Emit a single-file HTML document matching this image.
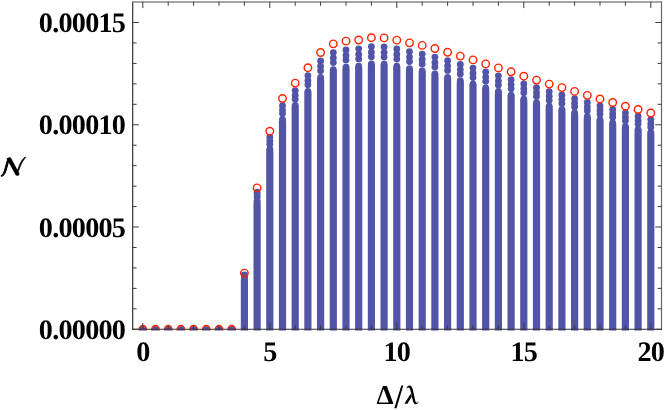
<!DOCTYPE html>
<html><head><meta charset="utf-8"><title>chart</title>
<style>
html,body{margin:0;padding:0;background:#fff;}
body{width:664px;height:410px;overflow:hidden;}
svg{display:block;will-change:transform;}
text{font-family:"Liberation Serif",serif;fill:#000;text-rendering:geometricPrecision;}
</style></head><body>
<svg width="664" height="410" viewBox="0 0 664 410">
<rect width="664" height="410" fill="#fff"/>
<defs><clipPath id="c"><rect x="132.7" y="1.9" width="528.8" height="328.6"/></clipPath></defs>
<g clip-path="url(#c)">
<g fill="#5254a8" stroke="none">
<circle cx="142.80" cy="329.30" r="3.40"/>
<circle cx="155.50" cy="329.30" r="3.40"/>
<circle cx="168.20" cy="329.30" r="3.40"/>
<circle cx="180.90" cy="329.30" r="3.40"/>
<circle cx="193.60" cy="329.30" r="3.40"/>
<circle cx="206.30" cy="329.30" r="3.40"/>
<circle cx="219.00" cy="329.30" r="3.40"/>
<circle cx="231.70" cy="329.30" r="3.40"/>
<circle cx="244.40" cy="274.81" r="3.40"/>
<circle cx="244.40" cy="275.88" r="3.40"/>
<circle cx="244.40" cy="276.78" r="3.40"/>
<circle cx="244.40" cy="278.17" r="3.40"/><path d="M241.00 278.17 L240.80 281.17 L240.80 332.30 L248.00 332.30 L248.00 281.17 L247.80 278.17 Z"/>
<circle cx="257.10" cy="192.21" r="3.40"/>
<circle cx="257.10" cy="194.90" r="3.40"/>
<circle cx="257.10" cy="197.16" r="3.40"/>
<circle cx="257.10" cy="200.65" r="3.40"/><path d="M253.70 200.65 L253.50 203.65 L253.50 332.30 L260.70 332.30 L260.70 203.65 L260.50 200.65 Z"/>
<circle cx="269.80" cy="137.24" r="3.40"/>
<circle cx="269.80" cy="141.01" r="3.40"/>
<circle cx="269.80" cy="144.18" r="3.40"/>
<circle cx="269.80" cy="149.07" r="3.40"/><path d="M266.40 149.07 L266.20 152.07 L266.20 332.30 L273.40 332.30 L273.40 152.07 L273.20 149.07 Z"/>
<circle cx="282.50" cy="105.54" r="3.40"/>
<circle cx="282.50" cy="109.92" r="3.40"/>
<circle cx="282.50" cy="113.62" r="3.40"/>
<circle cx="282.50" cy="119.32" r="3.40"/><path d="M279.10 119.32 L278.90 122.32 L278.90 332.30 L286.10 332.30 L286.10 122.32 L285.90 119.32 Z"/>
<circle cx="295.20" cy="90.61" r="3.40"/>
<circle cx="295.20" cy="95.29" r="3.40"/>
<circle cx="295.20" cy="99.23" r="3.40"/>
<circle cx="295.20" cy="105.31" r="3.40"/><path d="M291.80 105.31 L291.60 108.31 L291.60 332.30 L298.80 332.30 L298.80 108.31 L298.60 105.31 Z"/>
<circle cx="307.90" cy="75.68" r="3.40"/>
<circle cx="307.90" cy="80.65" r="3.40"/>
<circle cx="307.90" cy="84.83" r="3.40"/>
<circle cx="307.90" cy="91.30" r="3.40"/><path d="M304.50 91.30 L304.30 94.30 L304.30 332.30 L311.50 332.30 L311.50 94.30 L311.30 91.30 Z"/>
<circle cx="320.60" cy="60.94" r="3.40"/>
<circle cx="320.60" cy="66.20" r="3.40"/>
<circle cx="320.60" cy="70.63" r="3.40"/>
<circle cx="320.60" cy="77.47" r="3.40"/><path d="M317.20 77.47 L317.00 80.47 L317.00 332.30 L324.20 332.30 L324.20 80.47 L324.00 77.47 Z"/>
<circle cx="333.30" cy="52.56" r="3.40"/>
<circle cx="333.30" cy="57.98" r="3.40"/>
<circle cx="333.30" cy="62.55" r="3.40"/>
<circle cx="333.30" cy="69.60" r="3.40"/><path d="M329.90 69.60 L329.70 72.60 L329.70 332.30 L336.90 332.30 L336.90 72.60 L336.70 69.60 Z"/>
<circle cx="346.00" cy="49.94" r="3.40"/>
<circle cx="346.00" cy="55.41" r="3.40"/>
<circle cx="346.00" cy="60.02" r="3.40"/>
<circle cx="346.00" cy="67.14" r="3.40"/><path d="M342.60 67.14 L342.40 70.14 L342.40 332.30 L349.60 332.30 L349.60 70.14 L349.40 67.14 Z"/>
<circle cx="358.70" cy="48.82" r="3.40"/>
<circle cx="358.70" cy="54.32" r="3.40"/>
<circle cx="358.70" cy="58.95" r="3.40"/>
<circle cx="358.70" cy="66.09" r="3.40"/><path d="M355.30 66.09 L355.10 69.09 L355.10 332.30 L362.30 332.30 L362.30 69.09 L362.10 66.09 Z"/>
<circle cx="371.40" cy="46.59" r="3.40"/>
<circle cx="371.40" cy="52.13" r="3.40"/>
<circle cx="371.40" cy="56.80" r="3.40"/>
<circle cx="371.40" cy="64.00" r="3.40"/><path d="M368.00 64.00 L367.80 67.00 L367.80 332.30 L375.00 332.30 L375.00 67.00 L374.80 64.00 Z"/>
<circle cx="384.10" cy="46.79" r="3.40"/>
<circle cx="384.10" cy="52.32" r="3.40"/>
<circle cx="384.10" cy="56.99" r="3.40"/>
<circle cx="384.10" cy="64.18" r="3.40"/><path d="M380.70 64.18 L380.50 67.18 L380.50 332.30 L387.70 332.30 L387.70 67.18 L387.50 64.18 Z"/>
<circle cx="396.80" cy="48.97" r="3.40"/>
<circle cx="396.80" cy="54.46" r="3.40"/>
<circle cx="396.80" cy="59.09" r="3.40"/>
<circle cx="396.80" cy="66.23" r="3.40"/><path d="M393.40 66.23 L393.20 69.23 L393.20 332.30 L400.40 332.30 L400.40 69.23 L400.20 66.23 Z"/>
<circle cx="409.50" cy="51.59" r="3.40"/>
<circle cx="409.50" cy="57.03" r="3.40"/>
<circle cx="409.50" cy="61.61" r="3.40"/>
<circle cx="409.50" cy="68.69" r="3.40"/><path d="M406.10 68.69 L405.90 71.69 L405.90 332.30 L413.10 332.30 L413.10 71.69 L412.90 68.69 Z"/>
<circle cx="422.20" cy="54.06" r="3.40"/>
<circle cx="422.20" cy="59.45" r="3.40"/>
<circle cx="422.20" cy="64.00" r="3.40"/>
<circle cx="422.20" cy="71.01" r="3.40"/><path d="M418.80 71.01 L418.60 74.01 L418.60 332.30 L425.80 332.30 L425.80 74.01 L425.60 71.01 Z"/>
<circle cx="434.90" cy="57.06" r="3.40"/>
<circle cx="434.90" cy="62.40" r="3.40"/>
<circle cx="434.90" cy="66.89" r="3.40"/>
<circle cx="434.90" cy="73.83" r="3.40"/><path d="M431.50 73.83 L431.30 76.83 L431.30 332.30 L438.50 332.30 L438.50 76.83 L438.30 73.83 Z"/>
<circle cx="447.60" cy="60.75" r="3.40"/>
<circle cx="447.60" cy="66.01" r="3.40"/>
<circle cx="447.60" cy="70.44" r="3.40"/>
<circle cx="447.60" cy="77.29" r="3.40"/><path d="M444.20 77.29 L444.00 80.29 L444.00 332.30 L451.20 332.30 L451.20 80.29 L451.00 77.29 Z"/>
<circle cx="460.30" cy="64.43" r="3.40"/>
<circle cx="460.30" cy="69.62" r="3.40"/>
<circle cx="460.30" cy="73.99" r="3.40"/>
<circle cx="460.30" cy="80.74" r="3.40"/><path d="M456.90 80.74 L456.70 83.74 L456.70 332.30 L463.90 332.30 L463.90 83.74 L463.70 80.74 Z"/>
<circle cx="473.00" cy="68.12" r="3.40"/>
<circle cx="473.00" cy="73.24" r="3.40"/>
<circle cx="473.00" cy="77.55" r="3.40"/>
<circle cx="473.00" cy="84.20" r="3.40"/><path d="M469.60 84.20 L469.40 87.20 L469.40 332.30 L476.60 332.30 L476.60 87.20 L476.40 84.20 Z"/>
<circle cx="485.70" cy="71.99" r="3.40"/>
<circle cx="485.70" cy="77.04" r="3.40"/>
<circle cx="485.70" cy="81.28" r="3.40"/>
<circle cx="485.70" cy="87.84" r="3.40"/><path d="M482.30 87.84 L482.10 90.84 L482.10 332.30 L489.30 332.30 L489.30 90.84 L489.10 87.84 Z"/>
<circle cx="498.40" cy="75.87" r="3.40"/>
<circle cx="498.40" cy="80.84" r="3.40"/>
<circle cx="498.40" cy="85.02" r="3.40"/>
<circle cx="498.40" cy="91.48" r="3.40"/><path d="M495.00 91.48 L494.80 94.48 L494.80 332.30 L502.00 332.30 L502.00 94.48 L501.80 91.48 Z"/>
<circle cx="511.10" cy="79.65" r="3.40"/>
<circle cx="511.10" cy="84.55" r="3.40"/>
<circle cx="511.10" cy="88.67" r="3.40"/>
<circle cx="511.10" cy="95.03" r="3.40"/><path d="M507.70 95.03 L507.50 98.03 L507.50 332.30 L514.70 332.30 L514.70 98.03 L514.50 95.03 Z"/>
<circle cx="523.80" cy="83.92" r="3.40"/>
<circle cx="523.80" cy="88.73" r="3.40"/>
<circle cx="523.80" cy="92.78" r="3.40"/>
<circle cx="523.80" cy="99.03" r="3.40"/><path d="M520.40 99.03 L520.20 102.03 L520.20 332.30 L527.40 332.30 L527.40 102.03 L527.20 99.03 Z"/>
<circle cx="536.50" cy="87.70" r="3.40"/>
<circle cx="536.50" cy="92.44" r="3.40"/>
<circle cx="536.50" cy="96.42" r="3.40"/>
<circle cx="536.50" cy="102.58" r="3.40"/><path d="M533.10 102.58 L532.90 105.58 L532.90 332.30 L540.10 332.30 L540.10 105.58 L539.90 102.58 Z"/>
<circle cx="549.20" cy="91.58" r="3.40"/>
<circle cx="549.20" cy="96.24" r="3.40"/>
<circle cx="549.20" cy="100.16" r="3.40"/>
<circle cx="549.20" cy="106.22" r="3.40"/><path d="M545.80 106.22 L545.60 109.22 L545.60 332.30 L552.80 332.30 L552.80 109.22 L552.60 106.22 Z"/>
<circle cx="561.90" cy="94.97" r="3.40"/>
<circle cx="561.90" cy="99.56" r="3.40"/>
<circle cx="561.90" cy="103.43" r="3.40"/>
<circle cx="561.90" cy="109.40" r="3.40"/><path d="M558.50 109.40 L558.30 112.40 L558.30 332.30 L565.50 332.30 L565.50 112.40 L565.30 109.40 Z"/>
<circle cx="574.60" cy="98.66" r="3.40"/>
<circle cx="574.60" cy="103.18" r="3.40"/>
<circle cx="574.60" cy="106.98" r="3.40"/>
<circle cx="574.60" cy="112.86" r="3.40"/><path d="M571.20 112.86 L571.00 115.86 L571.00 332.30 L578.20 332.30 L578.20 115.86 L578.00 112.86 Z"/>
<circle cx="587.30" cy="102.49" r="3.40"/>
<circle cx="587.30" cy="106.93" r="3.40"/>
<circle cx="587.30" cy="110.67" r="3.40"/>
<circle cx="587.30" cy="116.45" r="3.40"/><path d="M583.90 116.45 L583.70 119.45 L583.70 332.30 L590.90 332.30 L590.90 119.45 L590.70 116.45 Z"/>
<circle cx="600.00" cy="105.98" r="3.40"/>
<circle cx="600.00" cy="110.35" r="3.40"/>
<circle cx="600.00" cy="114.04" r="3.40"/>
<circle cx="600.00" cy="119.73" r="3.40"/><path d="M596.60 119.73 L596.40 122.73 L596.40 332.30 L603.60 332.30 L603.60 122.73 L603.40 119.73 Z"/>
<circle cx="612.70" cy="109.42" r="3.40"/>
<circle cx="612.70" cy="113.73" r="3.40"/>
<circle cx="612.70" cy="117.36" r="3.40"/>
<circle cx="612.70" cy="122.96" r="3.40"/><path d="M609.30 122.96 L609.10 125.96 L609.10 332.30 L616.30 332.30 L616.30 125.96 L616.10 122.96 Z"/>
<circle cx="625.40" cy="113.00" r="3.40"/>
<circle cx="625.40" cy="117.24" r="3.40"/>
<circle cx="625.40" cy="120.81" r="3.40"/>
<circle cx="625.40" cy="126.32" r="3.40"/><path d="M622.00 126.32 L621.80 129.32 L621.80 332.30 L629.00 332.30 L629.00 129.32 L628.80 126.32 Z"/>
<circle cx="638.10" cy="116.20" r="3.40"/>
<circle cx="638.10" cy="120.38" r="3.40"/>
<circle cx="638.10" cy="123.90" r="3.40"/>
<circle cx="638.10" cy="129.33" r="3.40"/><path d="M634.70 129.33 L634.50 132.33 L634.50 332.30 L641.70 332.30 L641.70 132.33 L641.50 129.33 Z"/>
<circle cx="650.80" cy="119.60" r="3.40"/>
<circle cx="650.80" cy="123.71" r="3.40"/>
<circle cx="650.80" cy="127.17" r="3.40"/>
<circle cx="650.80" cy="132.51" r="3.40"/><path d="M647.40 132.51 L647.20 135.51 L647.20 332.30 L654.40 332.30 L654.40 135.51 L654.20 132.51 Z"/>
</g>
<g fill="none" stroke="#ff2400" stroke-width="1.42">
<circle cx="142.80" cy="329.30" r="3.75"/>
<circle cx="155.50" cy="329.30" r="3.75"/>
<circle cx="168.20" cy="329.30" r="3.75"/>
<circle cx="180.90" cy="329.30" r="3.75"/>
<circle cx="193.60" cy="329.30" r="3.75"/>
<circle cx="206.30" cy="329.30" r="3.75"/>
<circle cx="219.00" cy="329.30" r="3.75"/>
<circle cx="231.70" cy="329.30" r="3.75"/>
<circle cx="244.40" cy="273.10" r="3.75"/>
<circle cx="257.10" cy="187.90" r="3.75"/>
<circle cx="269.80" cy="131.20" r="3.75"/>
<circle cx="282.50" cy="98.50" r="3.75"/>
<circle cx="295.20" cy="83.10" r="3.75"/>
<circle cx="307.90" cy="67.70" r="3.75"/>
<circle cx="320.60" cy="52.50" r="3.75"/>
<circle cx="333.30" cy="43.85" r="3.75"/>
<circle cx="346.00" cy="41.15" r="3.75"/>
<circle cx="358.70" cy="40.00" r="3.75"/>
<circle cx="371.40" cy="37.70" r="3.75"/>
<circle cx="384.10" cy="37.90" r="3.75"/>
<circle cx="396.80" cy="40.15" r="3.75"/>
<circle cx="409.50" cy="42.85" r="3.75"/>
<circle cx="422.20" cy="45.40" r="3.75"/>
<circle cx="434.90" cy="48.50" r="3.75"/>
<circle cx="447.60" cy="52.30" r="3.75"/>
<circle cx="460.30" cy="56.10" r="3.75"/>
<circle cx="473.00" cy="59.90" r="3.75"/>
<circle cx="485.70" cy="63.90" r="3.75"/>
<circle cx="498.40" cy="67.90" r="3.75"/>
<circle cx="511.10" cy="71.80" r="3.75"/>
<circle cx="523.80" cy="76.20" r="3.75"/>
<circle cx="536.50" cy="80.10" r="3.75"/>
<circle cx="549.20" cy="84.10" r="3.75"/>
<circle cx="561.90" cy="87.60" r="3.75"/>
<circle cx="574.60" cy="91.40" r="3.75"/>
<circle cx="587.30" cy="95.35" r="3.75"/>
<circle cx="600.00" cy="98.95" r="3.75"/>
<circle cx="612.70" cy="102.50" r="3.75"/>
<circle cx="625.40" cy="106.20" r="3.75"/>
<circle cx="638.10" cy="109.50" r="3.75"/>
<circle cx="650.80" cy="113.00" r="3.75"/>
</g>
</g>
<g fill="none">
<line x1="132.7" y1="1.2" x2="132.7" y2="329.9" stroke="#333" stroke-width="1.2"/>
<line x1="661.5" y1="1.2" x2="661.5" y2="329.9" stroke="#666" stroke-width="1.2"/>
<line x1="132.1" y1="1.9" x2="662.1" y2="1.9" stroke="#888" stroke-width="1.5"/>
<line x1="132.1" y1="329.3" x2="662.1" y2="329.3" stroke="#333" stroke-width="1.1"/>
</g>
<g stroke="#3a3a3a" stroke-width="1" fill="none">
<line x1="142.80" y1="329.30" x2="142.80" y2="323.10"/><line x1="142.80" y1="1.90" x2="142.80" y2="8.10"/>
<line x1="168.20" y1="329.30" x2="168.20" y2="325.40"/><line x1="168.20" y1="1.90" x2="168.20" y2="5.80"/>
<line x1="193.60" y1="329.30" x2="193.60" y2="325.40"/><line x1="193.60" y1="1.90" x2="193.60" y2="5.80"/>
<line x1="219.00" y1="329.30" x2="219.00" y2="325.40"/><line x1="219.00" y1="1.90" x2="219.00" y2="5.80"/>
<line x1="244.40" y1="329.30" x2="244.40" y2="325.40"/><line x1="244.40" y1="1.90" x2="244.40" y2="5.80"/>
<line x1="269.80" y1="329.30" x2="269.80" y2="323.10"/><line x1="269.80" y1="1.90" x2="269.80" y2="8.10"/>
<line x1="295.20" y1="329.30" x2="295.20" y2="325.40"/><line x1="295.20" y1="1.90" x2="295.20" y2="5.80"/>
<line x1="320.60" y1="329.30" x2="320.60" y2="325.40"/><line x1="320.60" y1="1.90" x2="320.60" y2="5.80"/>
<line x1="346.00" y1="329.30" x2="346.00" y2="325.40"/><line x1="346.00" y1="1.90" x2="346.00" y2="5.80"/>
<line x1="371.40" y1="329.30" x2="371.40" y2="325.40"/><line x1="371.40" y1="1.90" x2="371.40" y2="5.80"/>
<line x1="396.80" y1="329.30" x2="396.80" y2="323.10"/><line x1="396.80" y1="1.90" x2="396.80" y2="8.10"/>
<line x1="422.20" y1="329.30" x2="422.20" y2="325.40"/><line x1="422.20" y1="1.90" x2="422.20" y2="5.80"/>
<line x1="447.60" y1="329.30" x2="447.60" y2="325.40"/><line x1="447.60" y1="1.90" x2="447.60" y2="5.80"/>
<line x1="473.00" y1="329.30" x2="473.00" y2="325.40"/><line x1="473.00" y1="1.90" x2="473.00" y2="5.80"/>
<line x1="498.40" y1="329.30" x2="498.40" y2="325.40"/><line x1="498.40" y1="1.90" x2="498.40" y2="5.80"/>
<line x1="523.80" y1="329.30" x2="523.80" y2="323.10"/><line x1="523.80" y1="1.90" x2="523.80" y2="8.10"/>
<line x1="549.20" y1="329.30" x2="549.20" y2="325.40"/><line x1="549.20" y1="1.90" x2="549.20" y2="5.80"/>
<line x1="574.60" y1="329.30" x2="574.60" y2="325.40"/><line x1="574.60" y1="1.90" x2="574.60" y2="5.80"/>
<line x1="600.00" y1="329.30" x2="600.00" y2="325.40"/><line x1="600.00" y1="1.90" x2="600.00" y2="5.80"/>
<line x1="625.40" y1="329.30" x2="625.40" y2="325.40"/><line x1="625.40" y1="1.90" x2="625.40" y2="5.80"/>
<line x1="650.80" y1="329.30" x2="650.80" y2="323.10"/><line x1="650.80" y1="1.90" x2="650.80" y2="8.10"/>
<line x1="132.70" y1="329.30" x2="138.90" y2="329.30"/><line x1="661.50" y1="329.30" x2="655.30" y2="329.30"/>
<line x1="132.70" y1="308.85" x2="136.60" y2="308.85"/><line x1="661.50" y1="308.85" x2="657.60" y2="308.85"/>
<line x1="132.70" y1="288.39" x2="136.60" y2="288.39"/><line x1="661.50" y1="288.39" x2="657.60" y2="288.39"/>
<line x1="132.70" y1="267.94" x2="136.60" y2="267.94"/><line x1="661.50" y1="267.94" x2="657.60" y2="267.94"/>
<line x1="132.70" y1="247.49" x2="136.60" y2="247.49"/><line x1="661.50" y1="247.49" x2="657.60" y2="247.49"/>
<line x1="132.70" y1="227.03" x2="138.90" y2="227.03"/><line x1="661.50" y1="227.03" x2="655.30" y2="227.03"/>
<line x1="132.70" y1="206.58" x2="136.60" y2="206.58"/><line x1="661.50" y1="206.58" x2="657.60" y2="206.58"/>
<line x1="132.70" y1="186.13" x2="136.60" y2="186.13"/><line x1="661.50" y1="186.13" x2="657.60" y2="186.13"/>
<line x1="132.70" y1="165.67" x2="136.60" y2="165.67"/><line x1="661.50" y1="165.67" x2="657.60" y2="165.67"/>
<line x1="132.70" y1="145.22" x2="136.60" y2="145.22"/><line x1="661.50" y1="145.22" x2="657.60" y2="145.22"/>
<line x1="132.70" y1="124.77" x2="138.90" y2="124.77"/><line x1="661.50" y1="124.77" x2="655.30" y2="124.77"/>
<line x1="132.70" y1="104.31" x2="136.60" y2="104.31"/><line x1="661.50" y1="104.31" x2="657.60" y2="104.31"/>
<line x1="132.70" y1="83.86" x2="136.60" y2="83.86"/><line x1="661.50" y1="83.86" x2="657.60" y2="83.86"/>
<line x1="132.70" y1="63.41" x2="136.60" y2="63.41"/><line x1="661.50" y1="63.41" x2="657.60" y2="63.41"/>
<line x1="132.70" y1="42.95" x2="136.60" y2="42.95"/><line x1="661.50" y1="42.95" x2="657.60" y2="42.95"/>
<line x1="132.70" y1="22.50" x2="138.90" y2="22.50"/><line x1="661.50" y1="22.50" x2="655.30" y2="22.50"/>
</g>
<g font-size="28.2" font-weight="bold" text-anchor="end" letter-spacing="-0.75">
<text x="125.2" y="338.90">0.00000</text>
<text x="125.2" y="236.63">0.00005</text>
<text x="125.2" y="134.37">0.00010</text>
<text x="125.2" y="32.10">0.00015</text>
</g>
<g font-size="28.2" font-weight="bold" text-anchor="middle" letter-spacing="-0.9">
<text x="142.80" y="360.9">0</text>
<text x="269.80" y="360.9">5</text>
<text x="396.80" y="360.9">10</text>
<text x="523.80" y="360.9">15</text>
<text x="650.80" y="360.9">20</text>
</g>
<text x="376.4" y="403.5" font-size="27.2" font-weight="bold">&#916;</text>
<polygon points="401.3,385.5 403.3,385.5 396.5,408.3 394.3,408.3" fill="#000"/>
<g transform="translate(372,380) scale(0.07831)" fill="#000" stroke="none">
<path d="M441 104 C 446 82, 460 71, 478 71 C 503 71, 515 95, 523 130 L 550 255 C 555 278, 562 290, 572 290 C 580 290, 585 283, 588 274 L 594 278 C 590 298, 578 310, 560 310 C 538 310, 528 292, 521 262 L 494 150 C 488 120, 482 100, 466 97 C 456 95, 450 100, 447 108 Z"/>
<path d="M492 178 L 508 212 L 452 302 L 414 302 Z"/>
</g><g transform="translate(0,140) scale(0.12195)" fill="#000" stroke="#000" stroke-linejoin="round">
<path stroke-width="8" d="M8 292 C 22 290, 30 270, 38 245 C 48 212, 55 180, 66 150 L 78 146 C 70 178, 60 215, 50 250 C 42 275, 30 298, 10 298 Z"/>
<path stroke-width="1" d="M54 152 L 88 143 L 160 278 L 150 293 L 130 290 Z"/>
<path stroke-width="5.5" d="M140 288 C 158 240, 172 185, 210 142 L 204 140 C 166 172, 150 230, 132 284 Z"/>
</g>
</svg>
</body></html>
